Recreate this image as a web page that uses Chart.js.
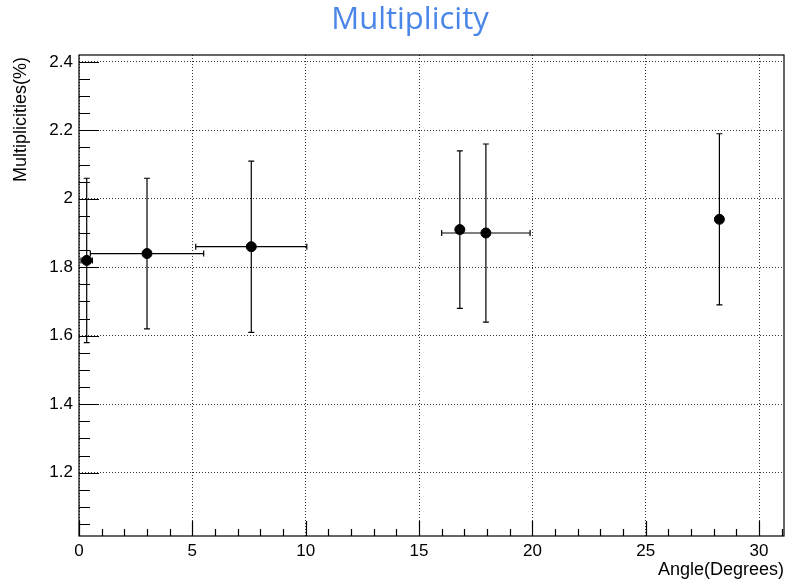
<!DOCTYPE html>
<html>
<head>
<meta charset="utf-8">
<script src="https://cdn.jsdelivr.net/npm/chart.js@4"></script>
<style>
  html, body { margin: 0; padding: 0; background: #fff; }
  #wrap { width: 790px; height: 582px; }
</style>
</head>
<body>
<div id="wrap"><canvas id="multChart"></canvas></div>
<script>
// data
const angles = [0.34, 3.0, 7.6, 16.8, 17.95, 28.25];
const multiplicities = [1.82, 1.84, 1.86, 1.91, 1.90, 1.94];
const angleErrors = [0.25, 2.5, 2.45, 0, 1.95, 0];
const multErrors = [0.24, 0.22, 0.25, 0.23, 0.26, 0.25];
const xTicks = [0, 5, 10, 15, 20, 25, 30];
const yTicks = [1.2, 1.4, 1.6, 1.8, 2.0, 2.2, 2.4];

const points = angles.map((a, i) => ({ x: a, y: multiplicities[i] }));

// ROOT-like error bars, ticks and frame
const rootStyle = {
    id: 'rootStyle',
    beforeDatasetsDraw(chart) {
        const ctx = chart.ctx;
        const xs = chart.scales.x, ys = chart.scales.y;
        ctx.save();
        ctx.strokeStyle = '#000';
        ctx.lineWidth = 1.2;
        const cap = 3;
        angles.forEach((a, i) => {
            const px = xs.getPixelForValue(a);
            const py = ys.getPixelForValue(multiplicities[i]);
            const yTop = ys.getPixelForValue(multiplicities[i] + multErrors[i]);
            const yBot = ys.getPixelForValue(multiplicities[i] - multErrors[i]);
            ctx.beginPath();
            ctx.moveTo(px, yTop); ctx.lineTo(px, yBot);
            ctx.moveTo(px - cap, yTop); ctx.lineTo(px + cap, yTop);
            ctx.moveTo(px - cap, yBot); ctx.lineTo(px + cap, yBot);
            if (angleErrors[i] > 0) {
                const xl = xs.getPixelForValue(a - angleErrors[i]);
                const xr = xs.getPixelForValue(a + angleErrors[i]);
                ctx.moveTo(xl, py); ctx.lineTo(xr, py);
                ctx.moveTo(xl, py - cap); ctx.lineTo(xl, py + cap);
                ctx.moveTo(xr, py - cap); ctx.lineTo(xr, py + cap);
            }
            ctx.stroke();
        });
        ctx.restore();
    },
    afterDraw(chart) {
        const ctx = chart.ctx;
        const area = chart.chartArea;
        const xs = chart.scales.x, ys = chart.scales.y;
        ctx.save();
        ctx.strokeStyle = '#000';
        ctx.lineWidth = 1.2;
        ctx.strokeRect(area.left, area.top, area.right - area.left, area.bottom - area.top);

        // inner tick marks
        ctx.beginPath();
        for (let v = 0; v <= xs.max; v += 1) {
            const px = Math.round(xs.getPixelForValue(v)) + 0.5;
            const len = v % 5 === 0 ? 15 : 7;
            ctx.moveTo(px, area.bottom); ctx.lineTo(px, area.bottom - len);
        }
        for (let k = Math.ceil(ys.min / 0.05); k * 0.05 <= ys.max + 1e-9; k++) {
            const v = k * 0.05;
            const py = Math.round(ys.getPixelForValue(v)) + 0.5;
            const len = k % 4 === 0 ? 20 : 11;
            ctx.moveTo(area.left, py); ctx.lineTo(area.left + len, py);
        }
        ctx.stroke();

        // titles
        ctx.fillStyle = '#000';
        ctx.font = '18px "Liberation Sans", Arial, sans-serif';
        ctx.textAlign = 'right';
        ctx.textBaseline = 'alphabetic';
        ctx.fillText('Angle(Degrees)', area.right, 575);

        ctx.save();
        ctx.translate(26, area.top + 2);
        ctx.rotate(-Math.PI / 2);
        ctx.textAlign = 'right';
        ctx.fillText('Multiplicities(%)', 0, 0);
        ctx.restore();

        ctx.fillStyle = '#4a86e8';
        ctx.font = '31px "Open Sans", sans-serif';
        ctx.textAlign = 'center';
        ctx.fillText('Multiplicity', 410, 29);
        ctx.restore();
    }
};

const chart = new Chart(document.getElementById('multChart'), {
    type: 'scatter',
    data: {
        datasets: [{
            label: 'Multiplicity',
            data: points,
            backgroundColor: '#000',
            borderColor: '#000',
            pointRadius: 5,
            pointHoverRadius: 5
        }]
    },
    options: {
        responsive: true,
        maintainAspectRatio: false,
        animation: false,
        layout: {
            padding: { top: 55, right: 6, left: 0, bottom: 0 }
        },
        scales: {
            x: {
                type: 'linear',
                min: 0,
                max: 31.1,
                afterBuildTicks: (scale) => { scale.ticks = xTicks.map(v => ({ value: v })); },
                afterFit: (scale) => { scale.height = 46; },
                grid: { color: '#333', lineWidth: 1, drawTicks: false },
                border: { display: false, dash: [1, 2] },
                ticks: {
                    color: '#000',
                    padding: 5,
                    font: { size: 17, family: '"Liberation Sans", Arial, sans-serif' }
                }
            },
            y: {
                type: 'linear',
                min: 1.015,
                max: 2.42,
                afterBuildTicks: (scale) => { scale.ticks = yTicks.map(v => ({ value: v })); },
                afterFit: (scale) => { scale.width = 79; },
                grid: { color: '#333', lineWidth: 1, drawTicks: false },
                border: { display: false, dash: [1, 2] },
                ticks: {
                    color: '#000',
                    padding: 6,
                    font: { size: 17, family: '"Liberation Sans", Arial, sans-serif' },
                    callback: (v) => String(Math.round(v * 10) / 10)
                }
            }
        },
        plugins: {
            legend: { display: false },
            tooltip: { enabled: false }
        }
    },
    plugins: [rootStyle]
});
</script>
</body>
</html>
